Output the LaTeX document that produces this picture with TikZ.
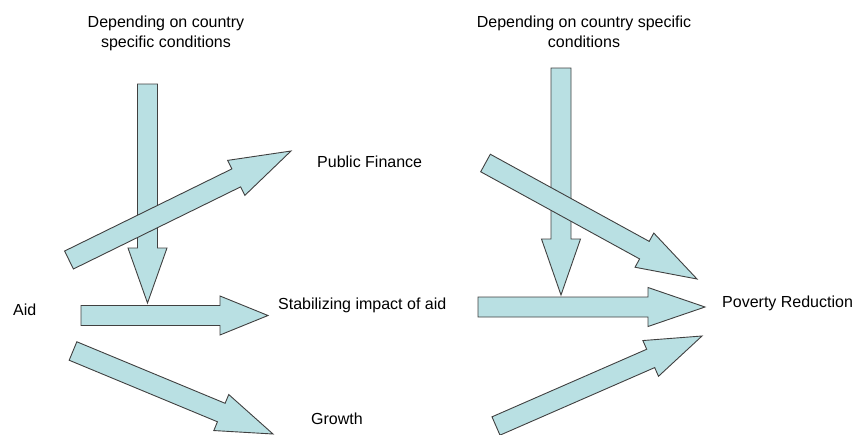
\documentclass[tikz,border=0pt]{standalone}
\usepackage{fontspec}
\setmainfont{Liberation Sans}
\usetikzlibrary{calc}

\definecolor{arrowfill}{RGB}{185,224,227}
\definecolor{arrowline}{RGB}{64,64,64}

% block arrow: [head length]{tail}{tip}
\newcommand{\fatarrow}[3][55]{%
    \coordinate (hb) at ($(#3)!#1pt!(#2)$);
    \draw[fat] ($(#2)!10pt!90:(#3)$) -- ($(hb)!10pt!90:(#3)$) -- ($(hb)!19.5pt!90:(#3)$)
        -- (#3) -- ($(hb)!19.5pt!-90:(#3)$) -- ($(hb)!10pt!-90:(#3)$) -- ($(#2)!10pt!-90:(#3)$) -- cycle;
}

\begin{document}
\begin{tikzpicture}[
    x=1pt, y=-1pt,
    txt/.style={
        inner sep=0pt,
        font=\fontsize{16pt}{20pt}\selectfont
    },
    fat/.style={
        fill=arrowfill,
        draw=arrowline,
        line width=0.9pt,
        line join=miter
    }
]
\useasboundingbox (0,0) rectangle (859,434);

% Testi
\node[txt, anchor=north, align=center] (cond1) at (166,15.5) {Depending on country\\specific conditions};
\node[txt, anchor=north, align=center] (cond2) at (584,15.5) {Depending on country specific\\conditions};
\node[txt, anchor=base west] (aid) at (13,315) {Aid};
\node[txt, anchor=base west] (finance) at (317,167) {Public Finance};
\node[txt, anchor=base west] (stab) at (278,309) {Stabilizing impact of aid};
\node[txt, anchor=base west] (growth) at (311,424) {Growth};
\node[txt, anchor=base west] (poverty) at (722,307) {Poverty Reduction};

% Estremi delle frecce
\coordinate (cond1-out) at (147.5,84);
\coordinate (cond1-in) at (147.5,303);
\coordinate (aid-fin) at (69,260);
\coordinate (fin-in) at (291,151);
\coordinate (aid-stab) at (81,315.5);
\coordinate (stab-in) at (268,315.5);
\coordinate (aid-gro) at (73,351);
\coordinate (gro-in) at (273,434);
\coordinate (cond2-out) at (561,68);
\coordinate (cond2-in) at (561,295);
\coordinate (fin-out) at (485.5,163);
\coordinate (pov-fin) at (697,279);
\coordinate (stab-out) at (478,307);
\coordinate (pov-stab) at (705,307);
\coordinate (gro-out) at (496,426);
\coordinate (pov-gro) at (702,336);

% Frecce a sinistra
\fatarrow[55]{cond1-out}{cond1-in}
\fatarrow[61]{aid-fin}{fin-in}
\fatarrow[48]{aid-stab}{stab-in}
\fatarrow[56]{aid-gro}{gro-in}

% Frecce a destra
\fatarrow[56]{cond2-out}{cond2-in}
\fatarrow[60]{fin-out}{pov-fin}
\fatarrow[57]{stab-out}{pov-stab}
\fatarrow[56]{gro-out}{pov-gro}

\end{tikzpicture}
\end{document}
